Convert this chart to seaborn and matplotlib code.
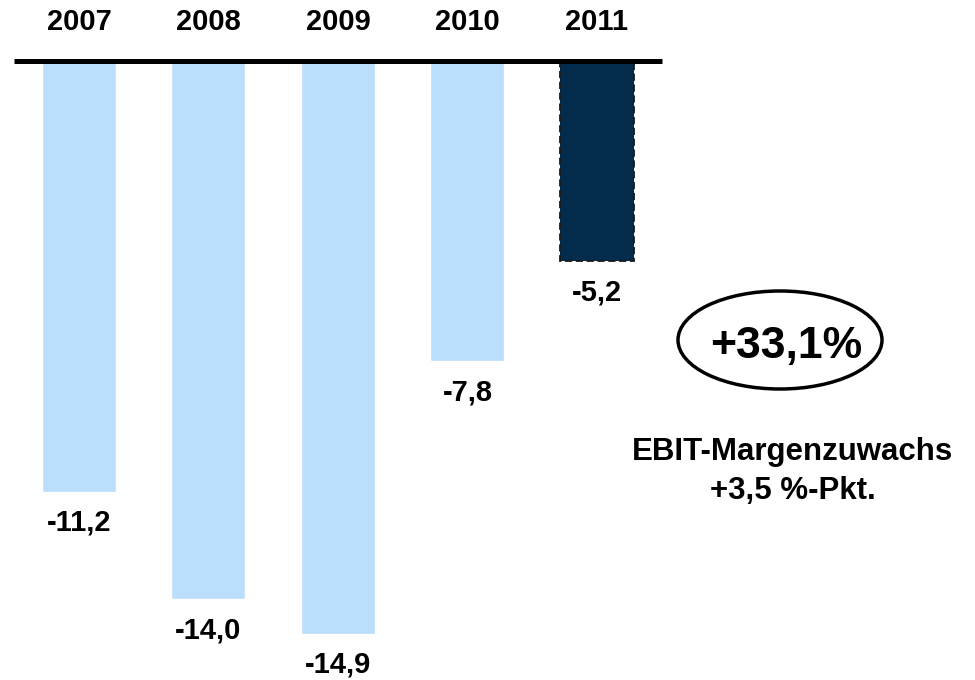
import matplotlib
matplotlib.use('Agg')
import matplotlib.pyplot as plt
import seaborn as sns
import pandas as pd
from matplotlib.patches import Ellipse

# Daten
years = ['2007', '2008', '2009', '2010', '2011']
values = [-11.2, -14.0, -14.9, -7.8, -5.2]
value_labels = ['-11,2', '-14,0', '-14,9', '-7,8', '-5,2']
bar_colors = ['#BBDEFC', '#BBDEFC', '#BBDEFC', '#BBDEFC', '#022B4C']
growth_label = '+33,1%'
note_lines = ['EBIT-Margenzuwachs', '+3,5 %-Pkt.']

sns.set_theme(style='white')
plt.rcParams['font.family'] = ['Liberation Sans', 'DejaVu Sans']

df = pd.DataFrame({'Jahr': years, 'Wert': values})

fig = plt.figure(figsize=(9.75, 6.8), dpi=100)
ax = fig.add_axes([0, 0, 1, 1])

# Pixel-Massstab: 129,5 px pro Kategorie, 38,4 px pro Einheit
px_x, px_y = 129.5, 38.4
x0, y0 = 79, 61.5

sns.barplot(data=df, x='Jahr', y='Wert', hue='Jahr', palette=bar_colors,
            legend=False, width=74 / px_x, saturation=1, ax=ax)

# letzter Balken mit gestricheltem Rand
last = ax.patches[-1]
last.set_edgecolor('#1a1a1a')
last.set_linestyle((0, (4, 2)))
last.set_linewidth(1.3)

ax.set_xlim(-x0 / px_x, (975 - x0) / px_x)
ax.set_ylim(-(680 - y0) / px_y, y0 / px_y)
ax.axis('off')

# Nulllinie
ax.hlines(0, -0.5, len(years) - 0.5, color='black', lw=3.6, zorder=5)

# Jahreszahlen oben
for i, yr in enumerate(years):
    ax.text(i, (y0 - 22) / px_y, yr, ha='center', va='center',
            fontsize=21, fontweight='bold', color='black')

# Werte unter den Balken
for i, (v, lab) in enumerate(zip(values, value_labels)):
    ax.text(i, v - 17 / px_y, lab, ha='center', va='top',
            fontsize=21, fontweight='bold', color='black')

# Ellipse mit Wachstum
cx, cy = (780 - x0) / px_x, -(340 - y0) / px_y
ax.add_patch(Ellipse((cx, cy), 204 / px_x, 98 / px_y, fill=False,
                     edgecolor='black', lw=2.5))
ax.text(cx + 6 / px_x, cy - 7 / px_y, growth_label, ha='center', va='center',
        fontsize=32, fontweight='bold', color='black')

# Hinweis
nx = (793 - x0) / px_x
ax.text(nx, -(452 - y0) / px_y, note_lines[0], ha='center', va='center',
        fontsize=22.5, fontweight='bold', color='black')
ax.text(nx, -(491 - y0) / px_y, note_lines[1], ha='center', va='center',
        fontsize=22.5, fontweight='bold', color='black')

plt.savefig('out.png', dpi=100)
plt.close()
